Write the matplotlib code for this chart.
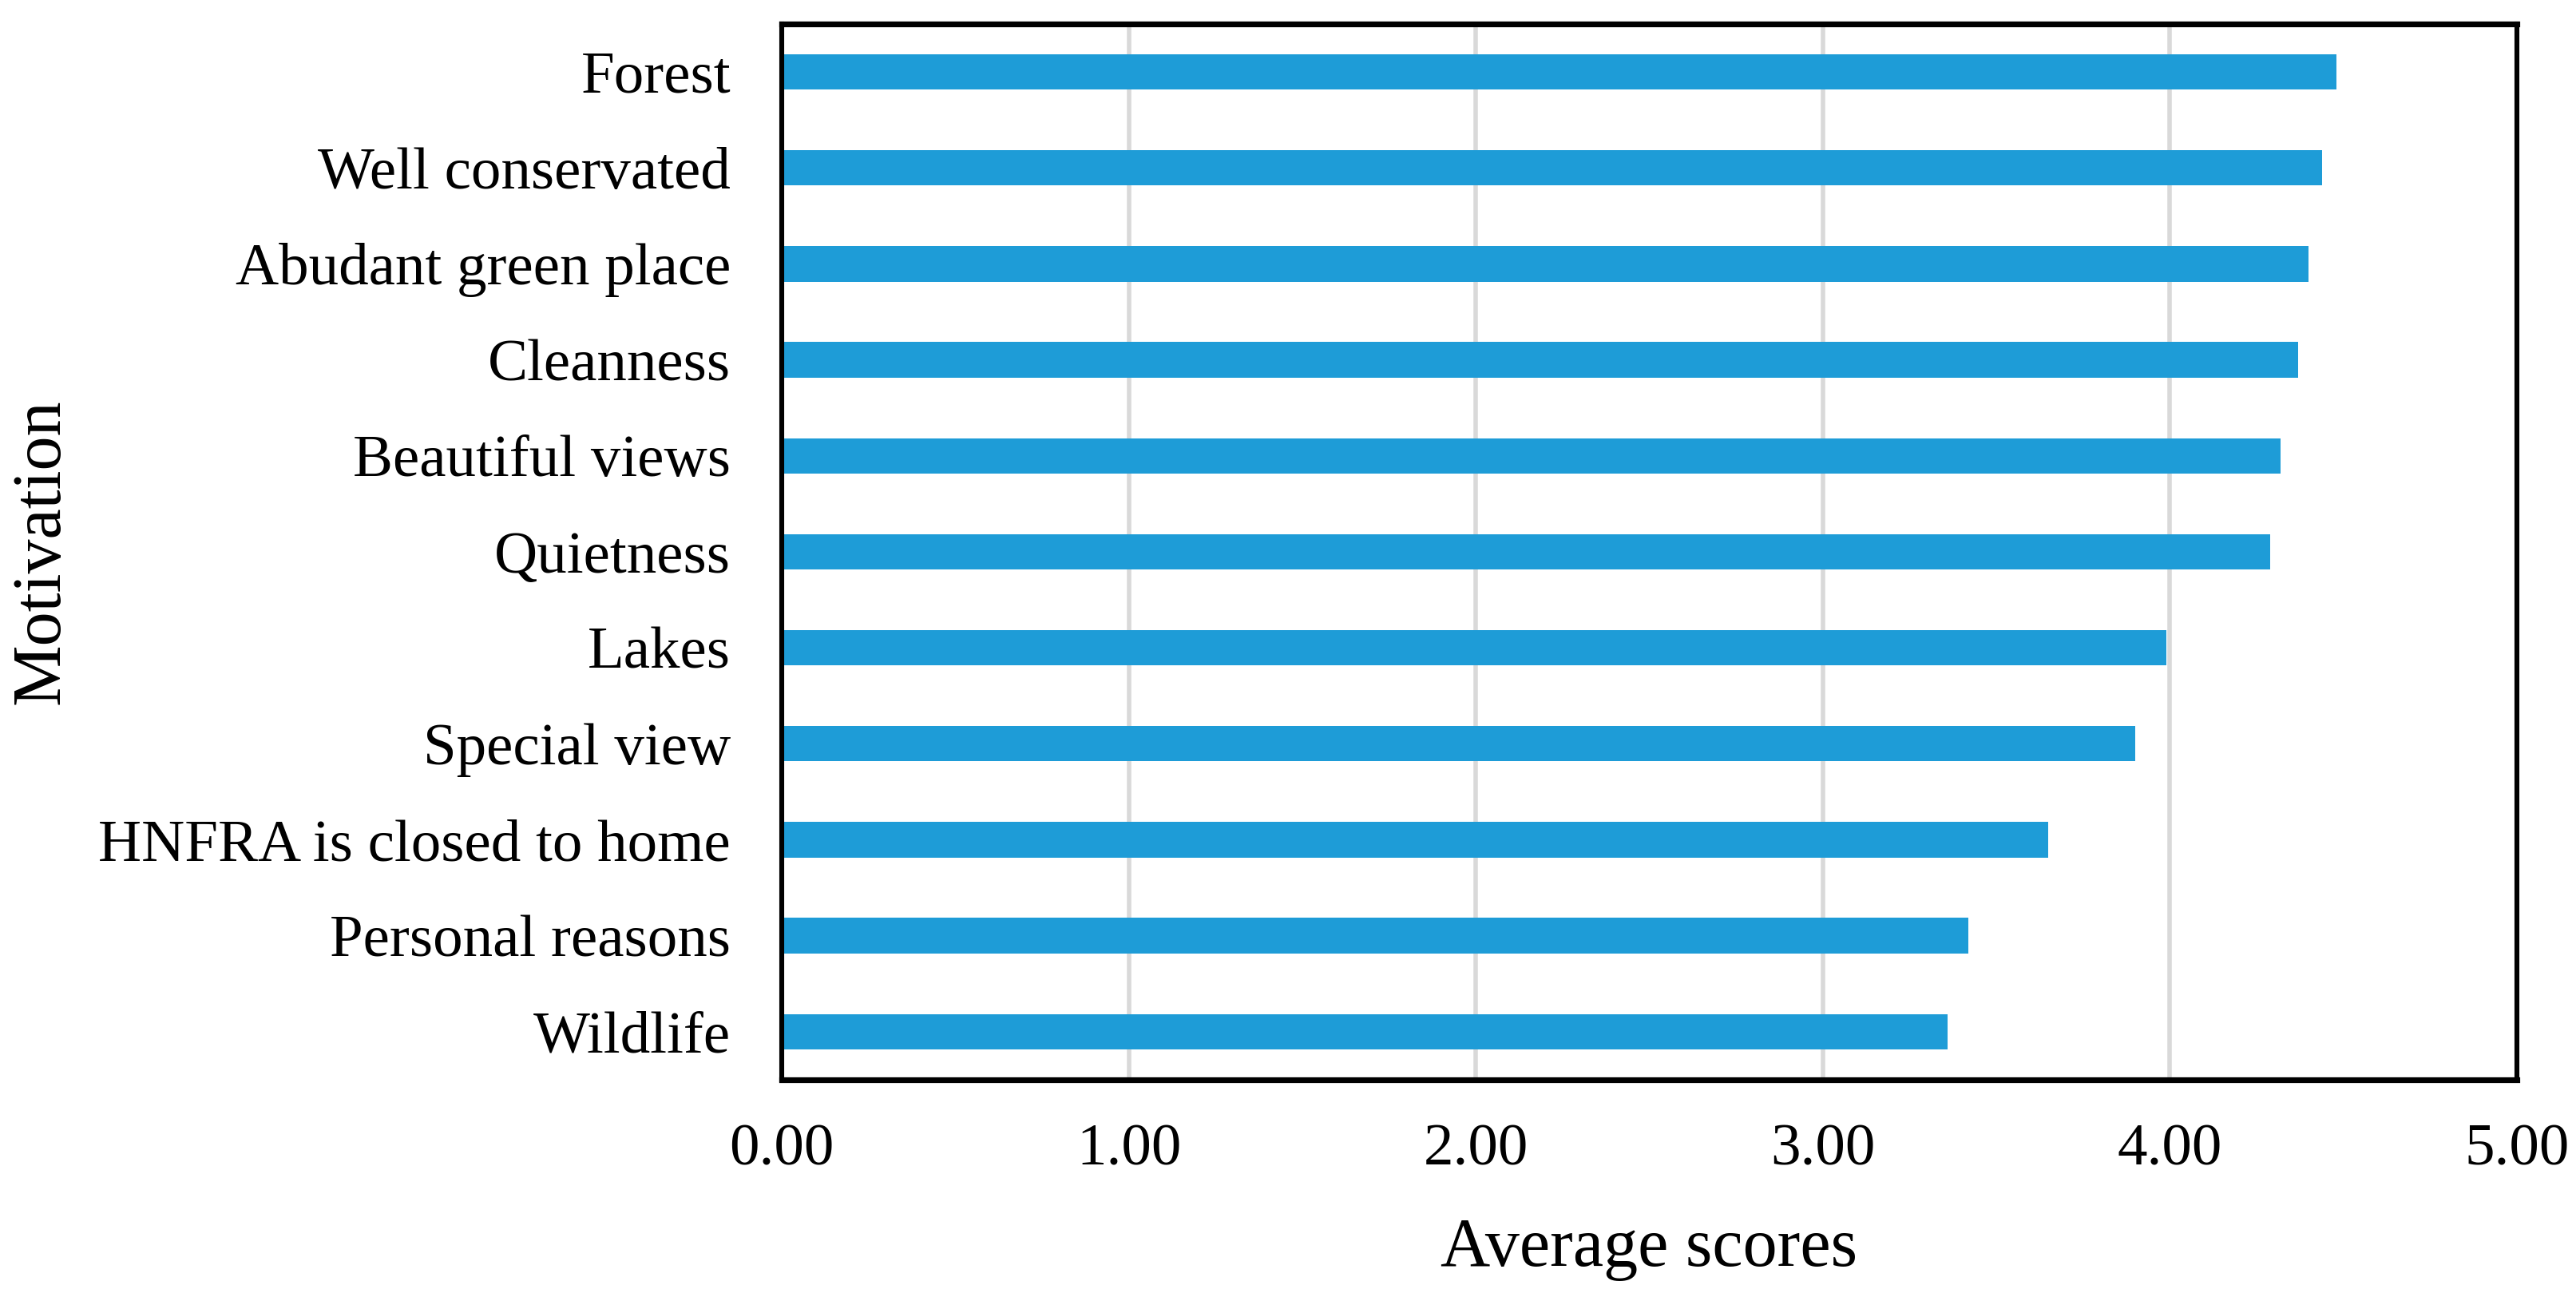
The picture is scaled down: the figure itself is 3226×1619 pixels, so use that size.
import matplotlib
matplotlib.use('Agg')
import matplotlib.pyplot as plt

plt.rcParams['font.family'] = ['Liberation Serif', 'DejaVu Serif']

motivations = [
    'Forest',
    'Well conservated',
    'Abudant green place',
    'Cleanness',
    'Beautiful views',
    'Quietness',
    'Lakes',
    'Special view',
    'HNFRA is closed to home',
    'Personal reasons',
    'Wildlife',
]
scores = [4.48, 4.44, 4.40, 4.37, 4.32, 4.29, 3.99, 3.90, 3.65, 3.42, 3.36]
xticks = [0, 1, 2, 3, 4, 5]

fig = plt.figure(figsize=(16.13, 8.095), dpi=200)
ax = fig.add_axes([0.3035, 0.165, 0.9770 - 0.3035, 0.9815 - 0.165])

positions = list(range(len(motivations)))
ax.barh(positions, scores, height=0.37, color='#1E9CD7', zorder=2)

ax.set_ylim(len(motivations) - 0.5, -0.5)
ax.set_yticks(positions)
ax.set_yticklabels(motivations)
ax.set_xlim(0, 5)
ax.set_xticks(xticks)
ax.set_xticklabels(['%.2f' % x for x in xticks])

ax.xaxis.grid(True, color='#D9D9D9', linewidth=2.0, zorder=0)
ax.set_axisbelow(True)
for side in ['top', 'bottom', 'left', 'right']:
    ax.spines[side].set_linewidth(2.2)
    ax.spines[side].set_color('black')
ax.spines['top'].set_linewidth(2.6)
ax.spines['bottom'].set_linewidth(2.6)

ax.tick_params(axis='y', length=0, pad=23, labelsize=27)
ax.tick_params(axis='x', length=0, pad=20, labelsize=27)

ax.set_xlabel('Average scores', fontsize=31, labelpad=18)
ax.set_ylabel('Motivation', fontsize=31, labelpad=11)

fig.savefig('out.png', dpi=200)
